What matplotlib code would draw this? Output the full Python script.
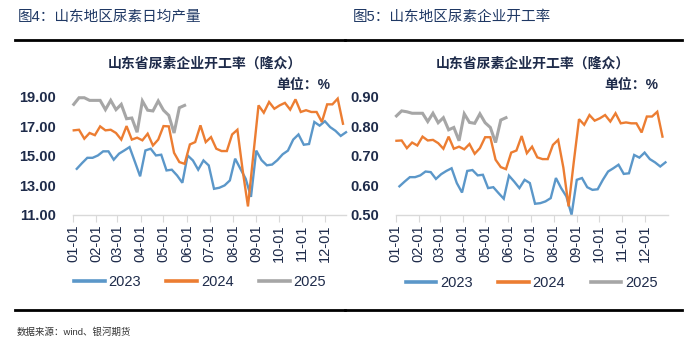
import matplotlib
matplotlib.use("Agg")
import matplotlib.pyplot as plt
import pandas as pd
from matplotlib.lines import Line2D

plt.rcParams['font.family'] = ['Liberation Sans', 'Noto Sans CJK SC', 'DejaVu Sans']

# ---------------- data ----------------
month_ticks = ["01-01", "02-01", "03-01", "04-01", "05-01", "06-01",
               "07-01", "08-01", "09-01", "10-01", "11-01", "12-01"]
years = ["2023", "2024", "2025"]
start_dates = {"2023": "2023-01-06", "2024": "2024-01-02", "2025": "2025-01-02"}

# Figure 4: Shandong daily urea output
prod_2023 = [14.11, 14.5, 14.86, 14.86, 15.02, 15.3, 15.3, 14.73, 15.14, 15.36,
             15.59, 14.6, 13.6, 15.36, 15.48, 15.02, 15.07, 14.0, 14.05, 13.66,
             13.16, 15.02, 14.68, 14.05, 14.68, 14.34, 12.75, 12.82, 12.98, 13.32,
             14.8, 14.11, 13.43, 12.2, 15.35, 14.7, 14.35, 14.4, 14.7, 15.1,
             15.35, 16.1, 16.45, 15.75, 15.8, 17.3, 17.05, 17.35, 16.95, 16.7,
             16.35, 16.6]
prod_2024 = [16.73, 16.77, 16.16, 16.55, 16.4, 17.0, 16.73, 16.77, 16.55, 16.1,
             17.02, 16.1, 16.23, 16.05, 16.5, 15.7, 16.1, 17.02, 17.0, 15.2,
             14.57, 14.45, 15.77, 15.93, 17.07, 15.93, 16.27, 15.48, 15.32, 15.32,
             16.45, 16.77, 14.0, 11.55, 15.0, 18.43, 17.93, 18.66, 18.2, 18.43,
             18.6, 18.14, 18.84, 17.98, 18.1, 17.98, 17.98, 17.3, 18.5, 18.5,
             18.89, 17.18]
prod_2025 = [18.5, 18.95, 18.95, 18.77, 18.77, 18.77, 18.14, 18.77, 18.14, 18.5,
             17.52, 17.57, 16.6, 18.73, 18.1, 18.05, 18.73, 18.1, 17.75, 16.55,
             18.27, 18.43]

# Figure 5: Shandong urea plant operating rate
rate_2023 = [0.597, 0.613, 0.628, 0.628, 0.634, 0.647, 0.645, 0.622, 0.638, 0.649,
             0.658, 0.608, 0.576, 0.649, 0.652, 0.634, 0.636, 0.591, 0.594, 0.574,
             0.555, 0.633, 0.613, 0.591, 0.619, 0.608, 0.538, 0.540, 0.546, 0.557,
             0.625, 0.591, 0.563, 0.501, 0.619, 0.625, 0.594, 0.585, 0.587, 0.619,
             0.647, 0.658, 0.670, 0.639, 0.641, 0.703, 0.694, 0.711, 0.689, 0.678,
             0.664, 0.678]
rate_2024 = [0.751, 0.752, 0.726, 0.745, 0.735, 0.765, 0.752, 0.754, 0.743, 0.724,
             0.765, 0.724, 0.731, 0.722, 0.740, 0.707, 0.726, 0.763, 0.763, 0.687,
             0.662, 0.655, 0.711, 0.718, 0.767, 0.709, 0.731, 0.695, 0.689, 0.689,
             0.737, 0.754, 0.66, 0.529, 0.68, 0.824, 0.805, 0.838, 0.819, 0.827,
             0.838, 0.816, 0.844, 0.810, 0.813, 0.810, 0.810, 0.779, 0.833, 0.833,
             0.849, 0.765]
rate_2025 = [0.835, 0.852, 0.849, 0.844, 0.844, 0.844, 0.816, 0.844, 0.812, 0.829,
             0.788, 0.796, 0.751, 0.842, 0.813, 0.810, 0.842, 0.812, 0.796, 0.745,
             0.821, 0.829]

colors = {"2023": "#5B97C9", "2024": "#EC7D32", "2025": "#A6A6A6"}
widths = {"2023": 1.7, "2024": 1.7, "2025": 2.2}
txt = "#1E2B4A"


def day_offsets(start, n):
    d = pd.date_range(start, periods=n, freq="7D")
    return (d.dayofyear - 1).to_numpy()


tick_days = (pd.date_range("2023-01-01", periods=12, freq="MS").dayofyear - 1).to_numpy()

fig = plt.figure(figsize=(6.89, 3.49), dpi=100)


def panel(rect, series, ylim, yticks, yfmt, xmax, leg_x):
    ax = fig.add_axes(rect)
    for y in years:
        vals = series[y]
        ax.plot(day_offsets(start_dates[y], len(vals)), vals, color=colors[y],
                lw=widths[y], label=y, solid_joinstyle="miter", clip_on=False)
    ax.set_xlim(0, xmax)
    ax.set_ylim(*ylim)
    ax.set_yticks(yticks)
    ax.set_yticklabels([yfmt.format(v) for v in yticks], fontsize=10.5,
                       color=txt, fontweight="bold")
    ax.set_xticks(tick_days)
    ax.set_xticklabels(month_ticks, rotation=90, fontsize=10.5, color=txt)
    for s in ["top", "right", "left"]:
        ax.spines[s].set_visible(False)
    ax.spines["bottom"].set_color("#D9D9D9")
    ax.spines["bottom"].set_linewidth(1.0)
    ax.tick_params(axis="y", length=0, pad=12)
    ax.tick_params(axis="x", length=5, color="#D9D9D9", pad=2)
    leg = ax.legend(loc="center", bbox_to_anchor=(leg_x, -0.574), ncol=3,
                    frameon=False, fontsize=10.5, handlelength=2.1,
                    columnspacing=1.75, handletextpad=0.25,
                    borderaxespad=0, borderpad=0)
    for t in leg.get_texts():
        t.set_color(txt)
    for h in leg.get_lines():
        h.set_linewidth(2.6)
    return ax


ax1 = panel([73 / 689, 1 - 214.5 / 349, 273 / 689, 117.5 / 349],
            {"2023": prod_2023, "2024": prod_2024, "2025": prod_2025},
            (11, 19), [11, 13, 15, 17, 19], "{:.2f}", 362, 0.465)
ax2 = panel([395.7 / 689, 1 - 215 / 349, 272 / 689, 118.3 / 349],
            {"2023": rate_2023, "2024": rate_2024, "2025": rate_2025},
            (0.5, 0.9), [0.5, 0.6, 0.7, 0.8, 0.9], "{:.2f}", 365, 0.5)

title_c = "#1F3864"
fig.text(18 / 689, 1 - 17 / 349, "图4：山东地区尿素日均产量", fontsize=10.5,
         color=title_c, va="center", ha="left")
fig.text(353 / 689, 1 - 17 / 349, "图5：山东地区尿素企业开工率", fontsize=10.5,
         color=title_c, va="center", ha="left")

fig.text(205 / 689, 1 - 64 / 349, "山东省尿素企业开工率（隆众）", fontsize=10,
         color=txt, va="center", ha="center", fontweight="bold")
fig.text(533 / 689, 1 - 64 / 349, "山东省尿素企业开工率（隆众）", fontsize=10,
         color=txt, va="center", ha="center", fontweight="bold")
fig.text(330 / 689, 1 - 85 / 349, "单位：%", fontsize=10, color=txt,
         va="center", ha="right", fontweight="bold")
fig.text(658 / 689, 1 - 85 / 349, "单位：%", fontsize=10, color=txt,
         va="center", ha="right", fontweight="bold")

# header / footer rules
for (x0, x1) in [(15, 345), (345, 682)]:
    for yy in (40, 310):
        fig.add_artist(Line2D([x0 / 689, x1 / 689], [1 - yy / 349, 1 - yy / 349],
                              color="black", lw=2.0, transform=fig.transFigure))

fig.text(17 / 689, 1 - 332 / 349, "数据来源：wind、银河期货", fontsize=6.8,
         color="#333333", va="center", ha="left")

fig.savefig("out.png", dpi=100)
